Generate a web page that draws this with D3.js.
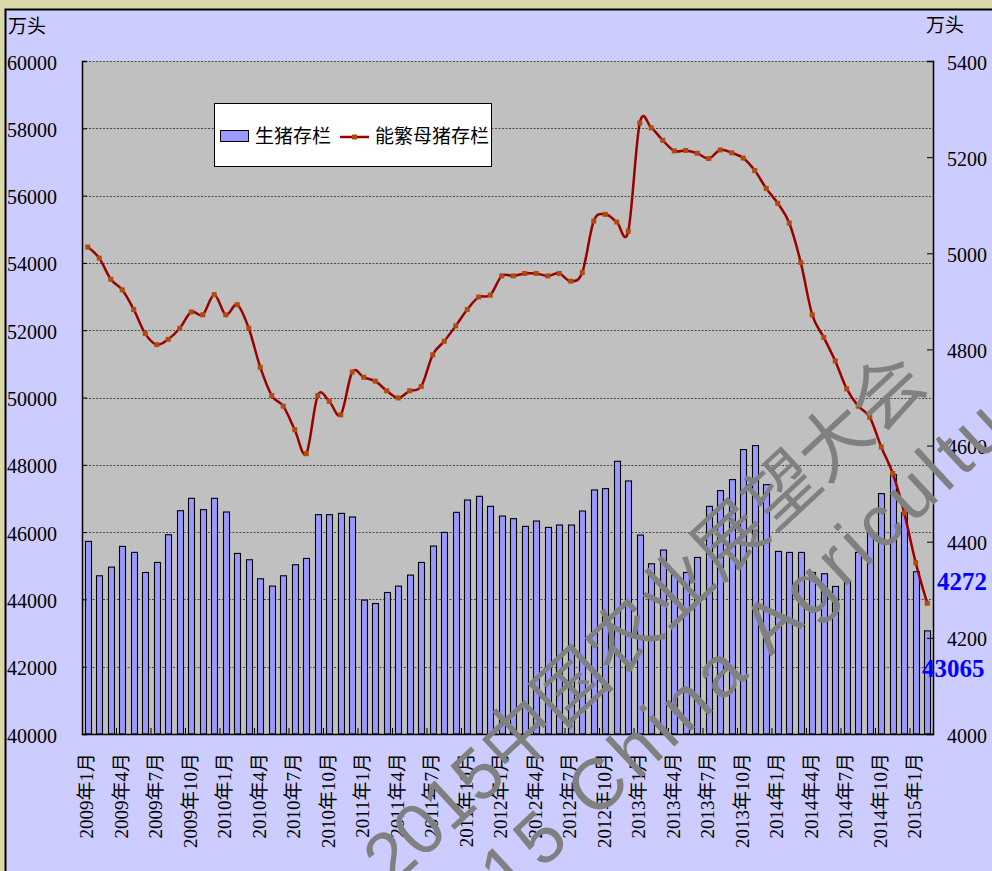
<!DOCTYPE html>
<html>
<head>
<meta charset="utf-8">
<script src="https://cdn.jsdelivr.net/npm/d3@7/dist/d3.min.js"></script>
<style>
html,body{margin:0;padding:0;background:#d9d9aa;overflow:hidden;}
svg{display:block;}
</style>
</head>
<body>
<svg id="chart" width="992" height="871"></svg>
<script>
// ---------- data ----------
const months = [];
for (let y = 2009; y <= 2015; y++) {
  for (let m = 1; m <= 12; m++) {
    if (y === 2015 && m > 2) break;
    months.push(y + "年" + m + "月");
  }
}
// 生猪存栏 (万头, left axis)
const hogStock = [
  45724, 44702, 44960, 45575, 45397, 44800, 45098, 45922, 46636, 47003, 46666, 47003,
  46597, 45366, 45178, 44613, 44395, 44702, 45029, 45217, 46518, 46518, 46557, 46449,
  43979, 43878, 44205, 44395, 44722, 45098, 45586, 45991, 46587, 46954, 47063, 46765,
  46478, 46399, 46170, 46329, 46140, 46211, 46211, 46627, 47252, 47291, 48104, 47520,
  45912, 45059, 45467, 44722, 44800, 45247, 46765, 47232, 47560, 48452, 48571, 47410,
  45426, 45396, 45396, 44800, 44762, 44385, 44533, 45396, 46021, 47142, 47708, 46577,
  44821, 43065
];
// 能繁母猪存栏 (万头, right axis)
const sowStock = [
  5013, 4990, 4946, 4924, 4883, 4833, 4810, 4821, 4844, 4878, 4872, 4914,
  4872, 4893, 4844, 4763, 4704, 4682, 4633, 4583, 4704, 4692, 4664, 4753,
  4742, 4734, 4714, 4699, 4714, 4723, 4789, 4817, 4849, 4883, 4909, 4913,
  4953, 4953, 4958, 4958, 4953, 4958, 4942, 4960, 5067, 5081, 5065, 5046,
  5271, 5261, 5235, 5213, 5214, 5208, 5197, 5215, 5209, 5198, 5172, 5135,
  5104, 5063, 4981, 4872, 4825, 4776, 4718, 4682, 4659, 4597, 4542, 4460,
  4356, 4272
];
const leftTicks = [40000, 42000, 44000, 46000, 48000, 50000, 52000, 54000, 56000, 58000, 60000];
const rightTicks = [4000, 4200, 4400, 4600, 4800, 5000, 5200, 5400];
const xTickLabels = months.filter((d, i) => i % 3 === 0);
const seriesNames = ["生猪存栏", "能繁母猪存栏"];
const unitLabel = "万头";
const endLabels = ["4272", "43065"];
const watermark = ["2015中国农业展望大会", "2015 China Agriculture"];

// ---------- layout ----------
const svg = d3.select("#chart");
const L = 82, R = 933, T = 61, B = 734;
const serif = "'Liberation Serif','Noto Sans CJK SC',serif";

// frame
svg.append("rect").attr("x", 0).attr("y", 0).attr("width", 992).attr("height", 871).attr("fill", "#d9d9aa");
svg.append("rect").attr("x", 5.5).attr("y", 9.5).attr("width", 1000).attr("height", 900)
  .attr("fill", "#ccccff").attr("stroke", "#000").attr("stroke-width", 2);

// plot area
svg.append("rect").attr("x", L).attr("y", T).attr("width", R - L).attr("height", B - T).attr("fill", "#c0c0c0");

const x = d3.scaleBand().domain(months).range([L, R]).paddingInner(0).paddingOuter(0);
const yL = d3.scaleLinear().domain([40000, 60000]).range([B, T]);
const yR = d3.scaleLinear().domain([4000, 5400]).range([B, T]);

// gridlines
svg.append("g").selectAll("line").data(leftTicks.filter(d => d > 40000)).join("line")
  .attr("x1", L).attr("x2", R)
  .attr("y1", d => Math.round(yL(d)) + 0.5).attr("y2", d => Math.round(yL(d)) + 0.5)
  .attr("stroke", "#4a4a4a").attr("stroke-width", 1).attr("stroke-dasharray", "2,1.5");

// bars
const bw = 6;
svg.append("g").selectAll("rect").data(hogStock).join("rect")
  .attr("x", (d, i) => Math.round(x(months[i]) + x.bandwidth() / 2 - bw / 2) + 0.5)
  .attr("y", d => yL(d))
  .attr("width", bw)
  .attr("height", d => B - yL(d))
  .attr("fill", "#9999ff").attr("stroke", "#000").attr("stroke-width", 1.1);

// axes
const axL = d3.axisLeft(yL).tickValues(leftTicks).tickSize(-5).tickPadding(25).tickFormat(d3.format("d"));
const gL = svg.append("g").attr("transform", `translate(${L},0)`).call(axL);
gL.select(".domain").attr("stroke", "#000").attr("stroke-width", 1.5);
gL.selectAll(".tick text").attr("x", -25).attr("dy", "0.4em").attr("text-anchor", "end")
  .style("font-family", serif).style("font-size", "20px").attr("fill", "#000");

const axR = d3.axisRight(yR).tickValues(rightTicks).tickSize(-6).tickPadding(14).tickFormat(d3.format("d"));
const gR = svg.append("g").attr("transform", `translate(${R},0)`).call(axR);
gR.select(".domain").attr("stroke", "#000").attr("stroke-width", 1.5);
gR.selectAll(".tick text").attr("x", 14).attr("dy", "0.4em")
  .style("font-family", serif).style("font-size", "20px").attr("fill", "#000");

const axB = d3.axisBottom(x).tickValues(xTickLabels).tickSize(0).tickFormat(d => d);
const gB = svg.append("g").attr("transform", `translate(0,${B})`).call(axB);
gB.select(".domain").attr("stroke", "#000").attr("stroke-width", 1.5);
gB.selectAll(".tick text")
  .attr("transform", "translate(-1,19) rotate(-90)")
  .attr("x", 0).attr("y", 0).attr("dy", "0.35em")
  .attr("text-anchor", "end")
  .style("font-family", serif).style("font-size", "19px").attr("fill", "#000");
// bottom tick marks every 3 months (at category boundaries)
svg.append("g").selectAll("line").data(xTickLabels.slice(1)).join("line")
  .attr("x1", d => x(d)).attr("x2", d => x(d))
  .attr("y1", B).attr("y2", B - 6).attr("stroke", "#000").attr("stroke-width", 1);

// line series
const line = d3.line()
  .x((d, i) => x(months[i]) + x.bandwidth() / 2)
  .y(d => yR(d))
  .curve(d3.curveCardinal.tension(0));
svg.append("path").datum(sowStock).attr("d", line)
  .attr("fill", "none").attr("stroke", "#990000").attr("stroke-width", 2.5);
svg.append("g").selectAll("rect").data(sowStock).join("rect")
  .attr("x", (d, i) => x(months[i]) + x.bandwidth() / 2 - 2.5)
  .attr("y", d => yR(d) - 2.5)
  .attr("width", 5).attr("height", 5).attr("fill", "#b14a10");

// unit labels
svg.append("text").attr("x", 8).attr("y", 33).text(unitLabel)
  .style("font-family", serif).style("font-size", "19px");
svg.append("text").attr("x", 926).attr("y", 32).text(unitLabel)
  .style("font-family", serif).style("font-size", "19px");

// legend
const lg = svg.append("g");
lg.append("rect").attr("x", 214.5).attr("y", 103.5).attr("width", 277).attr("height", 63)
  .attr("fill", "#fff").attr("stroke", "#000").attr("stroke-width", 1);
lg.append("rect").attr("x", 220.5).attr("y", 130.5).attr("width", 28).attr("height", 11)
  .attr("fill", "#9999ff").attr("stroke", "#000").attr("stroke-width", 1);
lg.append("text").attr("x", 255).attr("y", 143).text(seriesNames[0])
  .style("font-family", serif).style("font-size", "19px");
lg.append("line").attr("x1", 340).attr("x2", 369).attr("y1", 137).attr("y2", 137)
  .attr("stroke", "#990000").attr("stroke-width", 2.5);
lg.append("rect").attr("x", 352).attr("y", 134.5).attr("width", 5).attr("height", 5).attr("fill", "#b14a10");
lg.append("text").attr("x", 375).attr("y", 143).text(seriesNames[1])
  .style("font-family", serif).style("font-size", "19px");

// end value labels
svg.append("text").attr("x", 937).attr("y", 590).text(endLabels[0])
  .style("font-family", serif).style("font-size", "25px").style("font-weight", "bold").attr("fill", "#0000ff");
svg.append("text").attr("x", 922).attr("y", 677).text(endLabels[1])
  .style("font-family", serif).style("font-size", "25px").style("font-weight", "bold").attr("fill", "#0000ff");

// watermark
const wm = svg.append("g").style("font-family", "'Liberation Sans','Noto Sans CJK SC',sans-serif")
  .style("font-size", "72px").attr("fill", "#808080");
wm.append("text").attr("transform", "translate(392,888) rotate(-43)").text(watermark[0]);
wm.append("text").attr("transform", "translate(441,964) rotate(-43)")
  .style("letter-spacing", "6px").text(watermark[1]);
</script>
</body>
</html>
